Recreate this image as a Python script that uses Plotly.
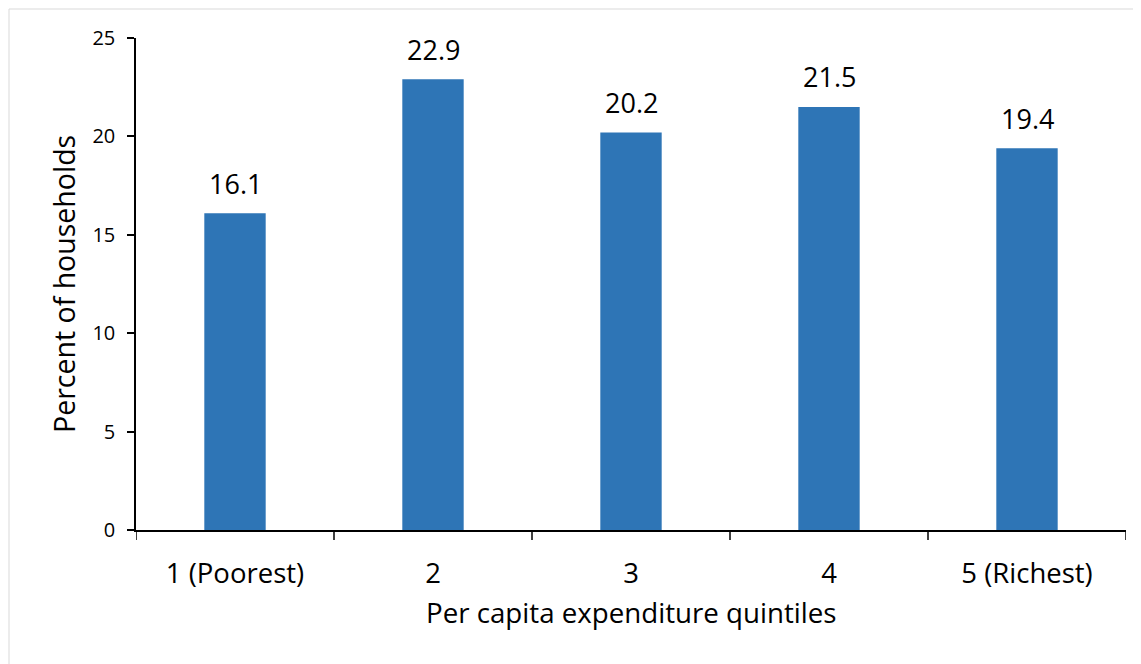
import plotly.graph_objects as go

categories = ["1 (Poorest)", "2", "3", "4", "5 (Richest)"]
values = [16.1, 22.9, 20.2, 21.5, 19.4]
y_ticks = [0, 5, 10, 15, 20, 25]

FONT = "Open Sans"
BAR_COLOR = "#2E75B6"

# page body has an 8px margin; compensate so the figure lands where the reference is
OFF = 8
W, H = 1141 - OFF, 664 - OFF
L, T = 136 - OFF, 38 - OFF
R = W - (1126 - OFF)
B = H - (530 - OFF)
pw, ph = W - L - R, H - T - B

fig = go.Figure()
fig.add_trace(go.Bar(x=list(range(len(categories))), y=values,
                     marker=dict(color=BAR_COLOR, line=dict(width=0)),
                     width=0.31, hoverinfo="skip"))

for i, v in enumerate(values):
    fig.add_annotation(x=i, y=v, text=f"{v:.1f}", showarrow=False, yanchor="middle", yshift=30,
                       xanchor="center", font=dict(family=FONT, size=27, color="#000000"))

fig.add_annotation(xref="paper", yref="paper", x=0, y=0.5, xshift=-72, textangle=-90,
                   xanchor="center", yanchor="middle",
                   text="Percent of households", showarrow=False,
                   font=dict(family=FONT, size=28.5, color="#000000"))
fig.add_annotation(xref="paper", yref="paper", x=0.5, y=0, yshift=-82,
                   xanchor="center", yanchor="middle",
                   text="Per capita expenditure quintiles", showarrow=False,
                   font=dict(family=FONT, size=27.7, color="#000000"))

fig.add_shape(type="rect", xref="paper", yref="paper",
              x0=(9 - OFF - L) / pw, x1=(W + 20 - L) / pw,
              y0=-(H + 20 - T - ph) / ph, y1=1 + (T - (9 - OFF)) / ph,
              line=dict(color="#D9D9D9", width=1), fillcolor="rgba(0,0,0,0)", layer="below")

fig.update_layout(
    width=W, height=H,
    margin=dict(l=L, r=R, t=T, b=B, autoexpand=False),
    paper_bgcolor="white", plot_bgcolor="white",
    showlegend=False,
    font=dict(family=FONT, color="#000000"),
    xaxis=dict(tickmode="array", tickvals=list(range(len(categories))), ticktext=categories,
               range=[-0.5, len(categories) - 0.5],
               showline=True, linecolor="#000000", linewidth=1.5, ticks="",
               showgrid=False, zeroline=False, ticklabelstandoff=18,
               tickfont=dict(family=FONT, size=27.5, color="#000000")),
    yaxis=dict(range=[0, 25], tickvals=y_ticks, showline=True, linecolor="#000000", linewidth=1.5,
               ticks="outside", ticklen=7, tickwidth=1.5, tickcolor="#000000",
               showgrid=False, zeroline=False, ticklabelstandoff=8,
               tickfont=dict(family=FONT, size=20, color="#000000")),
)

# category boundary ticks on the x axis
for k in range(len(categories) + 1):
    fig.add_shape(type="line", xref="x", yref="paper", x0=k - 0.5, x1=k - 0.5,
                  y0=0, y1=-10 / ph, line=dict(color="#000000", width=1.5))

fig.write_html("out.html")
